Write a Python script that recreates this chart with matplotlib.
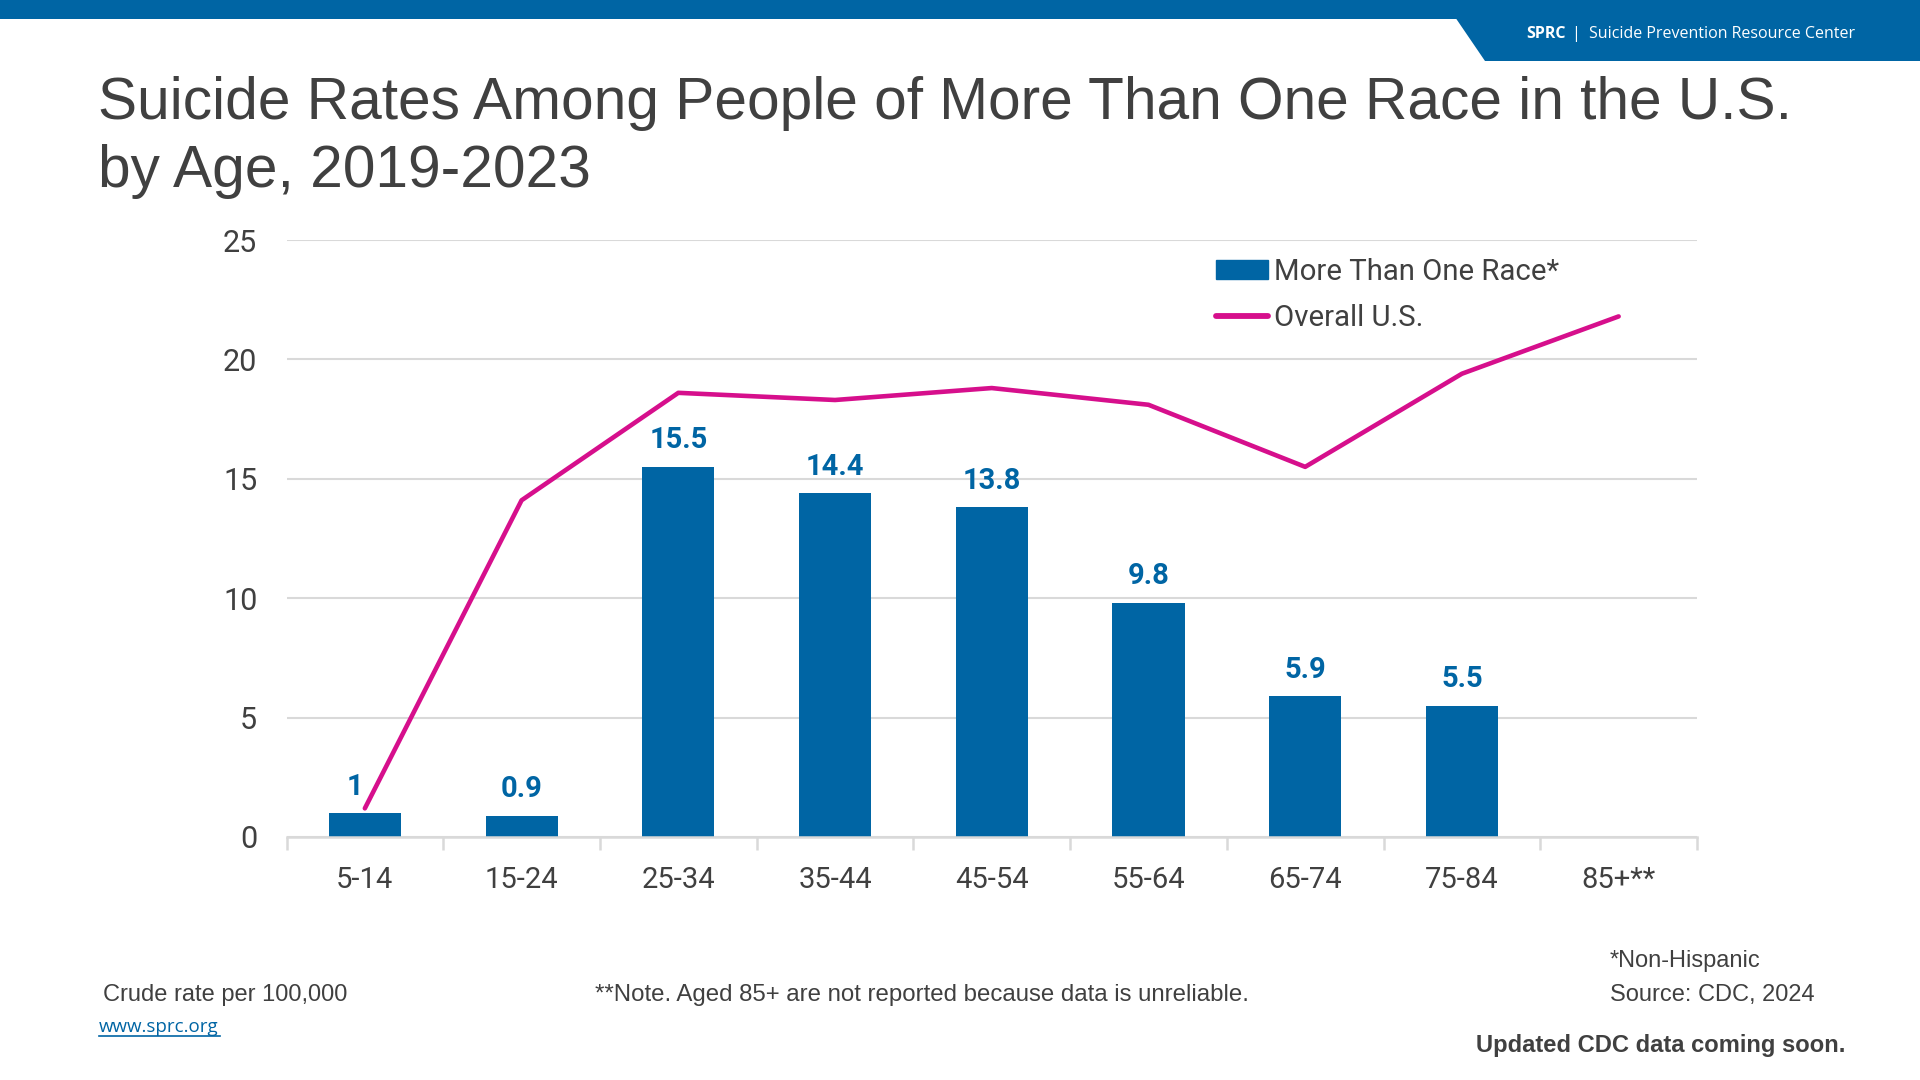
import matplotlib
matplotlib.use("Agg")
import matplotlib.pyplot as plt
from matplotlib.patches import Polygon, Rectangle
from matplotlib.lines import Line2D
import numpy as np

# ---- data ----
age_groups = ["5-14", "15-24", "25-34", "35-44", "45-54", "55-64", "65-74", "75-84", "85+**"]
multi_race = [1, 0.9, 15.5, 14.4, 13.8, 9.8, 5.9, 5.5, None]
overall_us = [1.2, 14.1, 18.6, 18.3, 18.8, 18.1, 15.5, 19.4, 21.8]
multi_labels = ["1", "0.9", "15.5", "14.4", "13.8", "9.8", "5.9", "5.5", ""]
y_ticks = [0, 5, 10, 15, 20, 25]

BLUE = "#0065A4"
MAGENTA = "#D60F8C"
GRID = "#D9D9D9"
TXT = "#404040"

W, H = 1920, 1080
fig = plt.figure(figsize=(19.2, 10.8), dpi=100)
fig.patch.set_facecolor("white")

# overlay for banner and footers in pixel coords
ov = fig.add_axes([0, 0, 1, 1], zorder=0)
ov.set_xlim(0, W)
ov.set_ylim(H, 0)
ov.axis("off")
ov.patch.set_alpha(0)
ov.add_patch(Rectangle((0, 0), W, 18.5, color=BLUE, lw=0))
ov.add_patch(Polygon([(1455, 0), (W, 0), (W, 61), (1485, 61), (1455, 17)], closed=True, color=BLUE, lw=0))
ov.text(1526, 34.5, "SPRC", color="white", fontsize=11.5, fontweight="bold", family="Open Sans", va="center", ha="left")
ov.text(1571, 33.5, "|", color="white", fontsize=11.5, family="Open Sans", va="center", ha="left")
ov.text(1589, 34.5, "Suicide Prevention Resource Center", color="white", fontsize=11.5, family="Open Sans", va="center", ha="left")

# title
ov.text(98, 119, "Suicide Rates Among People of More Than One Race in the U.S.", fontsize=42.2,
        family="Liberation Sans", color=TXT, va="baseline", ha="left")
ov.text(98, 187, "by Age, 2019-2023", fontsize=42.2, family="Liberation Sans", color=TXT, va="baseline", ha="left")

# footers
ov.text(103, 995.5, "Crude rate per 100,000", fontsize=17, family="Liberation Sans", color=TXT, va="center", ha="left")
ov.text(99, 1027, "www.sprc.org", fontsize=13.5, family="Open Sans", color=BLUE, va="center", ha="left")
ov.plot([99, 220], [1036, 1036], color=BLUE, lw=1.2)
ov.text(595, 995.5, "**Note. Aged 85+ are not reported because data is unreliable.", fontsize=17.25,
        family="Liberation Sans", color=TXT, va="center", ha="left")
ov.text(1610, 960.5, "*Non-Hispanic", fontsize=17, family="Liberation Sans", color=TXT, va="center", ha="left")
ov.text(1610, 995.5, "Source: CDC, 2024", fontsize=17, family="Liberation Sans", color=TXT, va="center", ha="left")
ov.text(1476, 1045.5, "Updated CDC data coming soon.", fontsize=17.1, fontweight="bold",
        family="Liberation Sans", color=TXT, va="center", ha="left")

# main chart
ax = fig.add_axes([286.5 / W, 243 / H, (1697 - 286.5) / W, (837 - 240) / H], zorder=2)
ax.patch.set_alpha(0)
x = np.arange(len(age_groups))
bar_vals = [v if v is not None else 0 for v in multi_race]
bars = ax.bar(x, bar_vals, width=0.46, color=BLUE, zorder=3, label="More Than One Race*")
for i, (xi, v, lab) in enumerate(zip(x, multi_race, multi_labels)):
    if v is not None and lab:
        dx = -7 if i == 0 else 0  # first label nudged left of the line, as in the original
        ax.annotate(lab, (xi, v), xytext=(dx, 9), textcoords="offset points", ha="center", va="bottom",
                    fontsize=21, fontweight="bold", color=BLUE, family="Roboto")
ax.plot(x, overall_us, color=MAGENTA, lw=3.3, solid_capstyle="round", solid_joinstyle="round",
        zorder=4, label="Overall U.S.")

ax.set_xlim(-0.5, len(age_groups) - 0.5)
ax.set_ylim(0, 25)
ax.set_yticks(y_ticks)
ax.set_yticklabels([str(t) for t in y_ticks], fontsize=22, family="Roboto", color=TXT)
ax.yaxis.grid(True, color=GRID, lw=1.5, zorder=0)
ax.set_axisbelow(True)
ax.tick_params(axis="y", length=0, pad=21)
for s in ["top", "right", "left"]:
    ax.spines[s].set_visible(False)
ax.spines["bottom"].set_color(GRID)
ax.spines["bottom"].set_linewidth(1.8)
ax.spines["bottom"].set_zorder(5)

ax.set_xticks(x)
ax.set_xticklabels(age_groups, fontsize=21, family="Roboto", color=TXT)
ax.tick_params(axis="x", length=0, pad=21)
ax.set_xticks(np.arange(-0.5, len(age_groups), 1.0), minor=True)
ax.tick_params(axis="x", which="minor", length=9, width=1.8, color=GRID)

handles = [Rectangle((0, 0), 1, 1, color=BLUE), Line2D([0], [0], color=MAGENTA, lw=4.2, solid_capstyle="round")]
leg = ax.legend(handles, ["More Than One Race*", "Overall U.S."], loc="upper left",
                bbox_to_anchor=(1216 / W, 1 - 258 / H), bbox_transform=fig.transFigure,
                frameon=False, prop={"family": "Roboto", "size": 21.2}, handlelength=1.75,
                handleheight=0.62, handletextpad=0.22, labelspacing=0.62, borderaxespad=0, borderpad=0)
for t in leg.get_texts():
    t.set_color(TXT)

fig.savefig("out.png", dpi=100, facecolor="white")
